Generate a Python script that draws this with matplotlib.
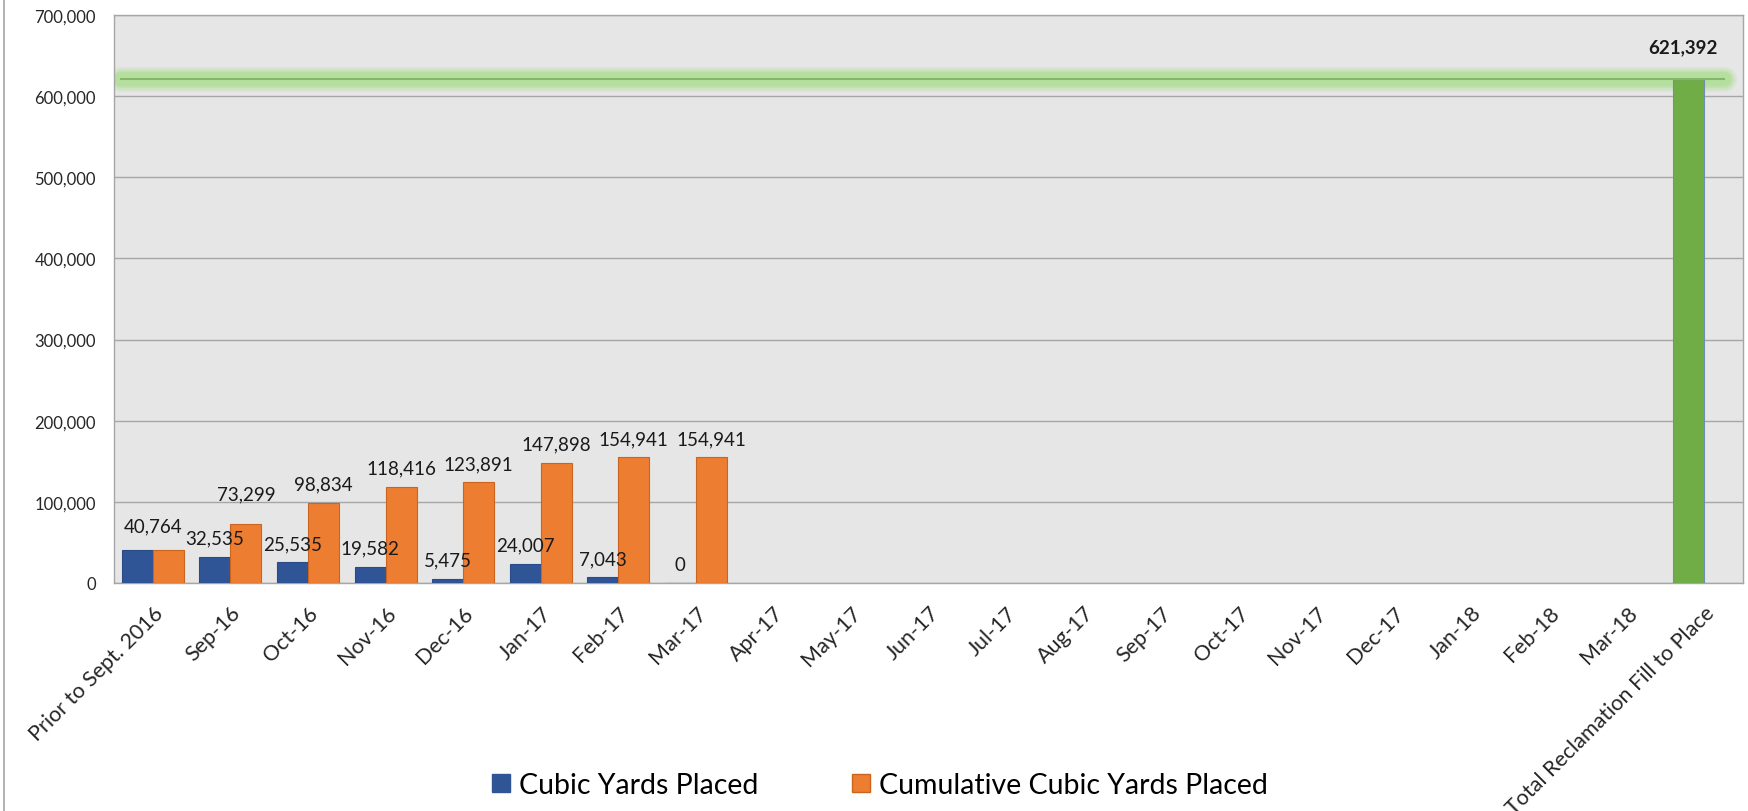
import matplotlib
matplotlib.use("Agg")
import matplotlib.pyplot as plt
import numpy as np
from matplotlib.patches import Patch
from matplotlib.lines import Line2D

plt.rcParams["font.family"] = ["Lato", "DejaVu Sans"]

BLUE, ORANGE, GREEN = "#2F5597", "#ED7D31", "#70AD47"

categories = ["Prior to Sept. 2016", "Sep-16", "Oct-16", "Nov-16", "Dec-16",
              "Jan-17", "Feb-17", "Mar-17", "Apr-17", "May-17", "Jun-17",
              "Jul-17", "Aug-17", "Sep-17", "Oct-17", "Nov-17", "Dec-17",
              "Jan-18", "Feb-18", "Mar-18", "Total Reclamation Fill to Place"]
nan = np.nan
placed = [40764, 32535, 25535, 19582, 5475, 24007, 7043, 0,
          nan, nan, nan, nan, nan, nan, nan, nan, nan, nan, nan, nan, 621392]
cumulative = [40764, 73299, 98834, 118416, 123891, 147898, 154941, 154941,
              nan, nan, nan, nan, nan, nan, nan, nan, nan, nan, nan, nan, nan]
target = 621392

x = np.arange(len(categories))
w = 0.4
LBL = 13.5

fig = plt.figure(figsize=(17.49, 8.12), dpi=100)
ax = fig.add_axes([0.0652, 0.2808, 0.9314, 0.6995])
ax.set_facecolor("#E6E6E6")

bar_colors = [BLUE] * (len(x) - 1) + [GREEN]
edge_colors = ["#2A4C86"] * (len(x) - 1) + ["#6E8FB0"]
ax.bar(x - w / 2, placed, w, color=bar_colors, edgecolor=edge_colors,
       linewidth=0.8, zorder=3)
ax.bar(x + w / 2, cumulative, w, color=ORANGE, edgecolor="#C9651F",
       linewidth=0.8, zorder=3)

# target line with a soft glow
for lw, a in ((18, 0.25), (15, 0.35), (12, 0.6), (10, 1.0)):
    ax.axhline(target, xmin=0.004, xmax=0.988, color="#B5DF9E", lw=lw,
               alpha=a, zorder=2, solid_capstyle="round")
ax.axhline(target, xmin=0.004, xmax=0.988, color="#86B46A", lw=1.5, zorder=4)

# data labels (offsets in points, a few were nudged in the original)
for i, v in enumerate(placed):
    if np.isnan(v):
        continue
    if i == len(x) - 1:
        ax.annotate(f"{v:,.0f}", (x[i] - w / 2, v), xytext=(-4, 23),
                    textcoords="offset points", ha="center", va="center",
                    fontsize=LBL, fontweight="bold", color="#1a1a1a")
    elif i == 0:
        ax.annotate(f"{v:,.0f}", (x[i], v), xytext=(0, 17.5),
                    textcoords="offset points", ha="center", va="center",
                    fontsize=LBL, color="#1a1a1a")
    else:
        ax.annotate(f"{v:,.0f}", (x[i] - w / 2, v), xytext=(0, 13.5),
                    textcoords="offset points", ha="center", va="center",
                    fontsize=LBL, color="#1a1a1a")
for i, v in enumerate(cumulative):
    if np.isnan(v) or i == 0:
        continue
    dy = 21.5 if i == 1 else 13.5
    ax.annotate(f"{v:,.0f}", (x[i] + w / 2, v), xytext=(0, dy),
                textcoords="offset points", ha="center", va="center",
                fontsize=LBL, color="#1a1a1a")

ax.set_xlim(-0.5, len(x) - 0.5)
ax.set_ylim(0, 700000)
ax.set_yticks(np.arange(0, 700001, 100000))
ax.yaxis.set_major_formatter(matplotlib.ticker.FuncFormatter(lambda v, p: f"{v:,.0f}"))
ax.grid(axis="y", color="#A6A6A6", lw=1.0, zorder=1)
ax.set_axisbelow(True)
ax.tick_params(axis="y", length=0, pad=13, labelsize=12, labelcolor="#262626")
ax.set_xticks(x)
ax.set_xticklabels(categories, rotation=45, ha="right", rotation_mode="anchor",
                   fontsize=15.5, color="#262626")
ax.tick_params(axis="x", length=0, pad=14)
for s in ax.spines.values():
    s.set_color("#A6A6A6")
    s.set_linewidth(1.0)

handles = [Patch(facecolor=BLUE, edgecolor=BLUE, label="Cubic Yards Placed"),
           Patch(facecolor=ORANGE, edgecolor="#C9651F",
                 label="Cumulative Cubic Yards Placed")]
fig.legend(handles=handles, loc="center", bbox_to_anchor=(0.503, 0.032),
           ncol=2, frameon=False, fontsize=20.5, handlelength=0.63,
           handleheight=0.63, handletextpad=0.32, columnspacing=3.3)

fig.add_artist(Line2D([0.0025, 0.0025], [0, 1], transform=fig.transFigure,
                      color="#A6A6A6", lw=1.2))

fig.savefig("out.png", dpi=100)
